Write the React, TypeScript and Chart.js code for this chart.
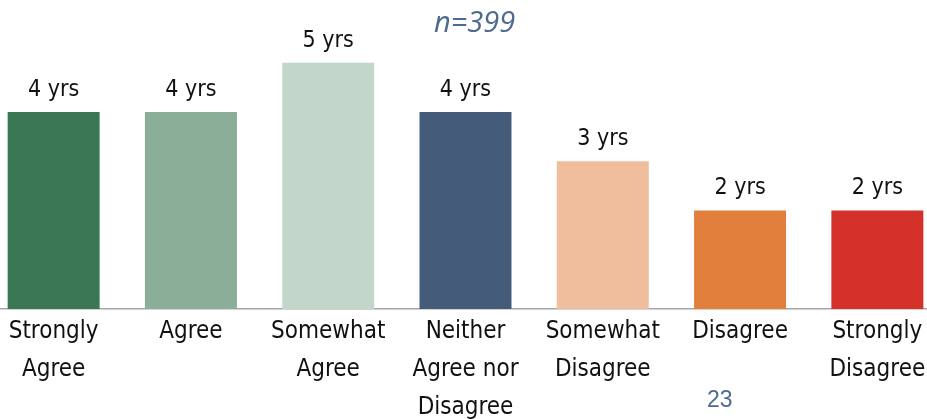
import React, { useEffect, useRef } from "react";
import { Chart, registerables } from "chart.js";

Chart.register(...registerables);

const categories: string[][] = [
  ["Strongly", "Agree"],
  ["Agree"],
  ["Somewhat", "Agree"],
  ["Neither", "Agree nor", "Disagree"],
  ["Somewhat", "Disagree"],
  ["Disagree"],
  ["Strongly", "Disagree"],
];
const years: number[] = [4, 4, 5, 4, 3, 2, 2];
const barColors: string[] = ["#3a7753", "#8aae98", "#c3d6cc", "#445b7a", "#f0be9c", "#e27f3d", "#d4302a"];
const valueSuffix = " yrs";
const sampleNote = "n=399";
const pageNumber = "23";

const FONT = "'DejaVu Sans Condensed', 'Liberation Sans Narrow', 'DejaVu Sans', sans-serif";

const labelPlugin = {
  id: "barValueLabels",
  afterDatasetsDraw(chart: any) {
    const ctx = chart.ctx;
    const meta = chart.getDatasetMeta(0);
    ctx.save();
    ctx.font = `23px ${FONT}`;
    ctx.fillStyle = "#111111";
    ctx.textAlign = "center";
    ctx.textBaseline = "alphabetic";
    meta.data.forEach((bar: any, i: number) => {
      ctx.fillText(`${years[i]}${valueSuffix}`, bar.x, bar.y - 16);
    });
    ctx.restore();
  },
};

export default function App() {
  const canvasRef = useRef<HTMLCanvasElement | null>(null);

  useEffect(() => {
    if (!canvasRef.current) return;
    const chart = new Chart(canvasRef.current, {
      type: "bar",
      data: {
        labels: categories,
        datasets: [
          {
            data: years,
            backgroundColor: barColors,
            borderWidth: 0,
            barPercentage: 0.67,
            categoryPercentage: 1,
          },
        ],
      },
      options: {
        animation: false,
        responsive: true,
        maintainAspectRatio: false,
        layout: { padding: 0 },
        plugins: {
          legend: { display: false },
          title: { display: false },
          tooltip: { enabled: false },
        },
        scales: {
          x: {
            grid: { display: false },
            border: { display: true, color: "#a6a6a6", width: 1.5 },
            ticks: {
              color: "#111111",
              font: { family: FONT, size: 24, lineHeight: 1.58 },
              padding: -4,
              maxRotation: 0,
              autoSkip: false,
            },
            afterFit(scale: any) {
              scale.height = 110;
            },
          },
          y: {
            display: false,
            min: 0,
            max: 6.274,
          },
        },
      },
      plugins: [labelPlugin],
    });
    return () => chart.destroy();
  }, []);

  return (
    <div
      style={{
        position: "fixed",
        left: 0,
        top: 0,
        width: 927,
        height: 419,
        overflow: "hidden",
        background: "#ffffff",
      }}
    >
      <div style={{ position: "absolute", left: -15, top: 0, width: 961, height: 419 }}>
        <canvas ref={canvasRef} />
      </div>
      <div
        style={{
          position: "absolute",
          left: 434,
          top: 4,
          fontFamily: "'Open Sans', sans-serif",
          fontStyle: "italic",
          fontSize: 29,
          lineHeight: "34px",
          color: "#4f6a8f",
          whiteSpace: "nowrap",
        }}
      >
        {sampleNote}
      </div>
      <div
        style={{
          position: "absolute",
          left: 707,
          top: 385,
          fontFamily: "'Liberation Sans', sans-serif",
          fontSize: 23,
          lineHeight: "28px",
          color: "#4f6a8f",
        }}
      >
        {pageNumber}
      </div>
    </div>
  );
}
